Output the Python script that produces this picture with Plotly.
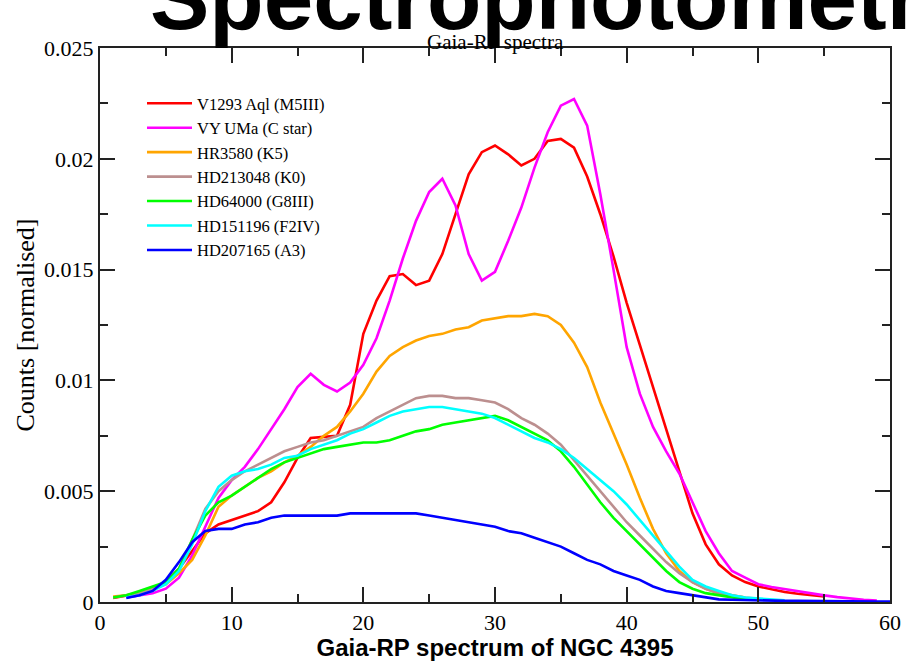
import plotly.graph_objects as go

# ---- data ----
channels = list(range(1, 61))

names = ["V1293 Aql (M5III)", "VY UMa (C star)", "HR3580 (K5)", "HD213048 (K0)",
         "HD64000 (G8III)", "HD151196 (F2IV)", "HD207165 (A3)"]
colors = ["#ff0000", "#ff00ff", "#ffa500", "#bc8f8f", "#00ff00", "#00ffff", "#0000ff"]

# first channel of each series
first_channel = [1, 2, 1, 1, 1, 2, 2]

red_v1293 = [0.00018, 0.0003, 0.0004, 0.0006, 0.0009, 0.0015, 0.0023, 0.0031, 0.0035, 0.0037,
             0.0039, 0.0041, 0.0045, 0.0054, 0.0065, 0.0074, 0.00745, 0.0075, 0.0089, 0.0121,
             0.0136, 0.0147, 0.0148, 0.0143, 0.0145, 0.0157, 0.0175, 0.0193, 0.0203, 0.0206,
             0.0202, 0.0197, 0.0200, 0.0208, 0.0209, 0.0205, 0.0192, 0.0175, 0.0156, 0.0135,
             0.0116, 0.0097, 0.0078, 0.0058, 0.0040, 0.0026, 0.0017, 0.0012, 0.0009, 0.0007,
             0.00056, 0.00045, 0.00037, 0.0003, 0.00025]
magenta_vyuma = [0.0002, 0.0003, 0.0004, 0.0006, 0.0011, 0.0021, 0.0034, 0.0047, 0.0055,
                 0.0061, 0.0069, 0.0078, 0.0087, 0.0097, 0.0103, 0.0098, 0.0095, 0.0099, 0.0107,
                 0.0119, 0.0136, 0.0155, 0.0172, 0.0185, 0.0191, 0.0179, 0.0157, 0.0145, 0.0149,
                 0.0163, 0.0178, 0.0196, 0.0212, 0.0224, 0.0227, 0.0215, 0.0184, 0.0150, 0.0115,
                 0.0094, 0.0079, 0.0068, 0.0058, 0.0045, 0.0032, 0.0022, 0.0014, 0.0011, 0.0008,
                 0.00068, 0.00058, 0.00048, 0.0004, 0.0003, 0.00022, 0.00015, 0.0001, 0.00006]
orange_hr3580 = [0.00025, 0.0003, 0.0004, 0.0006, 0.0008, 0.0013, 0.0019, 0.0030, 0.0043, 0.0048,
                 0.0052, 0.0056, 0.0059, 0.0063, 0.0066, 0.0070, 0.0075, 0.0079, 0.0086, 0.0094,
                 0.0104, 0.0111, 0.0115, 0.0118, 0.0120, 0.0121, 0.0123, 0.0124, 0.0127, 0.0128,
                 0.0129, 0.0129, 0.0130, 0.0129, 0.0125, 0.0117, 0.0106, 0.0090, 0.0076, 0.0062,
                 0.0047, 0.0033, 0.0022, 0.0014, 0.0009, 0.0006, 0.0004, 0.0003, 0.0002]
brown_hd213048 = [0.0002, 0.0003, 0.0004, 0.0006, 0.0009, 0.0015, 0.0028, 0.0042, 0.0050, 0.0055,
                  0.0059, 0.0062, 0.0065, 0.0068, 0.0070, 0.0072, 0.0073, 0.0075, 0.0077, 0.0079,
                  0.0083, 0.0086, 0.0089, 0.0092, 0.0093, 0.0093, 0.0092, 0.0092, 0.0091, 0.0090,
                  0.0087, 0.0083, 0.0080, 0.0076, 0.0071, 0.0064, 0.0057, 0.0050, 0.0043, 0.0036,
                  0.0030, 0.0024, 0.0018, 0.0013, 0.0009, 0.0006, 0.0004, 0.0003, 0.0002, 0.00015]
green_hd64000 = [0.0002, 0.0003, 0.0005, 0.0007, 0.0009, 0.0015, 0.0028, 0.0039, 0.0045, 0.0048,
                 0.0052, 0.0056, 0.0060, 0.0063, 0.0065, 0.0067, 0.0069, 0.0070, 0.0071, 0.0072,
                 0.0072, 0.0073, 0.0075, 0.0077, 0.0078, 0.0080, 0.0081, 0.0082, 0.0083, 0.0084,
                 0.0082, 0.0079, 0.0076, 0.0073, 0.0068, 0.0061, 0.0053, 0.0045, 0.0038, 0.0032,
                 0.0026, 0.0020, 0.0014, 0.0009, 0.0006, 0.0004, 0.0003, 0.0002, 0.00012, 0.0001]
cyan_hd151196 = [0.0002, 0.0003, 0.0005, 0.0008, 0.0014, 0.0026, 0.0041, 0.0052, 0.0057,
                 0.0059, 0.0060, 0.0062, 0.0065, 0.0066, 0.0069, 0.0071, 0.0073, 0.0076, 0.0078,
                 0.0081, 0.0084, 0.0086, 0.0087, 0.0088, 0.0088, 0.0087, 0.0086, 0.0085, 0.0083,
                 0.0080, 0.0077, 0.0074, 0.0072, 0.0069, 0.0065, 0.0060, 0.0055, 0.0050, 0.0044,
                 0.0037, 0.0030, 0.0023, 0.0016, 0.0010, 0.0007, 0.0005, 0.0003, 0.0002, 0.00015,
                 0.0001, 0.00008]
blue_hd207165 = [0.00018, 0.0003, 0.0005, 0.0010, 0.0018, 0.0027, 0.0032, 0.0033, 0.0033,
                 0.0035, 0.0036, 0.0038, 0.0039, 0.0039, 0.0039, 0.0039, 0.0039, 0.0040, 0.0040,
                 0.0040, 0.0040, 0.0040, 0.0040, 0.0039, 0.0038, 0.0037, 0.0036, 0.0035, 0.0034,
                 0.0032, 0.0031, 0.0029, 0.0027, 0.0025, 0.0022, 0.0019, 0.0017, 0.0014, 0.0012,
                 0.0010, 0.0007, 0.0005, 0.0004, 0.0003, 0.0002, 0.00012, 0.0001, 0.00008,
                 0.00007, 0.00006, 0.00005, 0.00005, 0.00004, 0.00004, 0.00003, 0.00003,
                 0.00003, 0.00002, 0.00002]

series = [red_v1293, magenta_vyuma, orange_hr3580, brown_hd213048,
          green_hd64000, cyan_hd151196, blue_hd207165]

x_tick_vals = [0, 10, 20, 30, 40, 50, 60]
x_tick_text = ["0", "10", "20", "30", "40", "50", "60"]
y_tick_vals = [0, 0.005, 0.01, 0.015, 0.02, 0.025]
y_tick_text = ["0", "0.005", "0.01", "0.015", "0.02", "0.025"]

slide_title = "Spectrophotometry"
plot_title = "Gaia-RP spectra"
x_title = "Gaia-RP spectrum of NGC 4395"
y_title = "Counts [normalised]"

# ---- figure ----
fig = go.Figure()
for name, col, start, vals in zip(names, colors, first_channel, series):
    xs = channels[channels.index(start):channels.index(start) + len(vals)]
    fig.add_trace(go.Scatter(x=xs, y=vals, mode="lines", name=name,
                             line=dict(color=col, width=2.6)))

W, H = 921, 661
L, R, T, B = 100, 31, 48, 59
ph = H - T - B
pw = W - L - R

def py(ypx):
    return (H - B - ypx) / ph

def px(xpx):
    return (xpx - L) / pw

serif = "Liberation Serif, Times New Roman, serif"
axis_common = dict(showline=True, linecolor="#222222", linewidth=2, mirror="ticks",
                   ticks="inside", ticklen=15, tickwidth=1.6, tickcolor="#222222",
                   showgrid=False, zeroline=False,
                   tickfont=dict(family=serif, size=22, color="black"))

fig.update_xaxes(range=[0, 60], tickvals=x_tick_vals, ticktext=x_tick_text,
                 minor=dict(ticks="inside", dtick=5, ticklen=8, tickwidth=1.6,
                            tickcolor="#222222", showgrid=False),
                 title=dict(text="<b>" + x_title + "</b>", standoff=12,
                            font=dict(family="Liberation Sans, Arial", size=24, color="black")),
                 **axis_common)
fig.update_yaxes(range=[0, 0.025], tickvals=y_tick_vals, ticktext=y_tick_text,
                 minor=dict(ticks="inside", dtick=0.0025, ticklen=8, tickwidth=1.6,
                            tickcolor="#222222", showgrid=False),
                 title=dict(text=y_title, standoff=2,
                            font=dict(family=serif, size=26, color="black")),
                 **axis_common)

fig.add_annotation(text="<b>" + slide_title + "</b>", xref="paper", yref="paper",
                   x=px(148), y=py(-2), xanchor="left", yanchor="middle", showarrow=False,
                   font=dict(family="Liberation Sans, Arial", size=89, color="black"))
fig.add_annotation(text=plot_title, xref="paper", yref="paper",
                   x=0.5, y=py(42), xanchor="center", yanchor="middle", showarrow=False,
                   font=dict(family=serif, size=21, color="black"))

fig.update_layout(
    width=W, height=H,
    margin=dict(l=L, r=R, t=T, b=B, autoexpand=False),
    paper_bgcolor="white", plot_bgcolor="white",
    showlegend=True,
    legend=dict(x=px(142), y=py(86), xanchor="left", yanchor="top",
                bgcolor="rgba(0,0,0,0)", borderwidth=0, itemwidth=45,
                font=dict(family=serif, size=16.5, color="black"), tracegroupgap=0),
)

fig.write_html("out.html")
